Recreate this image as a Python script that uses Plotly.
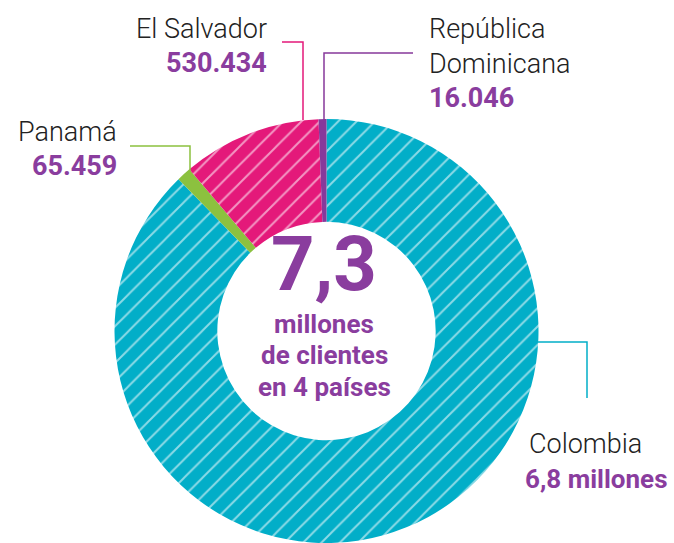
import plotly.graph_objects as go

W, H = 674, 543

# Data (slice shares as drawn in the picture, clockwise from 12 o'clock)
countries = ["Colombia", "Panamá", "El Salvador", "República Dominicana"]
drawn_share = [87.7, 1.1, 10.6, 0.6]
value_labels = ["6,8 millones", "65.459", "530.434", "16.046"]
total_label = "7,3"
center_lines = ["millones", "de clientes", "en 4 países"]

TEAL = "#02AEC8"
PINK = "#E4197A"
GREEN = "#8CC13F"
PURPLE = "#87399B"
colors = [TEAL, GREEN, PINK, PURPLE]

def px(x):
    return x / W

def py(y):
    return 1 - y / H

fig = go.Figure()
fig.add_trace(go.Pie(
    labels=countries,
    values=drawn_share,
    sort=False,
    direction="clockwise",
    rotation=0,
    hole=0.515,
    textinfo="none",
    hoverinfo="label",
    marker=dict(
        colors=colors,
        line=dict(width=0),
        pattern=dict(shape=["/", "", "/", ""], fillmode="overlay",
                     fgcolor="white", fgopacity=0.55, size=13, solidity=0.15),
    ),
    domain=dict(x=[113 / W, 540 / W], y=[0, 424 / H]),
    showlegend=False,
))

NUM_FAMILY = "Roboto"
TXT_PURPLE = "#8A3D9E"
LABEL_FONT = dict(family="Roboto", size=27, color="#222222", weight=300)
NUM_FONT = dict(family=NUM_FAMILY, size=27, color=TXT_PURPLE, weight="bold")

ann = []
def add(text, x, y, font, xanchor):
    ann.append(dict(text=text, x=px(x), y=py(y), xref="paper", yref="paper",
                    xanchor=xanchor, yanchor="middle", showarrow=False, font=font))

# El Salvador
add(countries[2], 269, 29, LABEL_FONT, "right")
add(value_labels[2], 269, 63, NUM_FONT, "right")
# República Dominicana
add("República", 427, 29, LABEL_FONT, "left")
add("Dominicana", 427, 64, LABEL_FONT, "left")
add(value_labels[3], 427, 98, NUM_FONT, "left")
# Panamá
add(countries[1], 119, 132, LABEL_FONT, "right")
add(value_labels[1], 119, 166, NUM_FONT, "right")
# Colombia
add(countries[0], 527, 444, LABEL_FONT, "left")
add(value_labels[0], 670, 479, dict(NUM_FONT, size=26), "right")

# Center text
CENTER_FONT = dict(family=NUM_FAMILY, size=26, color=TXT_PURPLE, weight="bold")
add(total_label, 324, 264, dict(family=NUM_FAMILY, size=76, color=TXT_PURPLE, weight="bold"), "center")
add(center_lines[0], 324, 324, CENTER_FONT, "center")
add(center_lines[1], 324, 355, CENTER_FONT, "center")
add(center_lines[2], 324, 387, CENTER_FONT, "center")

def leader(points, color):
    path = "M " + " L ".join(f"{px(a)},{py(b)}" for a, b in points)
    return dict(type="path", path=path, xref="paper", yref="paper",
                line=dict(color=color, width=1.5), layer="above")

shapes = [
    leader([(282, 42), (303, 42), (303, 120)], PINK),
    leader([(413, 53), (324, 53), (324, 120)], PURPLE),
    leader([(130, 146), (190, 146), (190, 172)], GREEN),
    leader([(538, 342), (587, 342), (587, 398)], TEAL),
]

fig.update_layout(
    width=W, height=H,
    margin=dict(l=0, r=0, t=0, b=0),
    paper_bgcolor="white",
    plot_bgcolor="white",
    annotations=ann,
    shapes=shapes,
)

fig.write_html("out.html", config={"displayModeBar": False},
               post_script="document.body.style.margin='0';")
